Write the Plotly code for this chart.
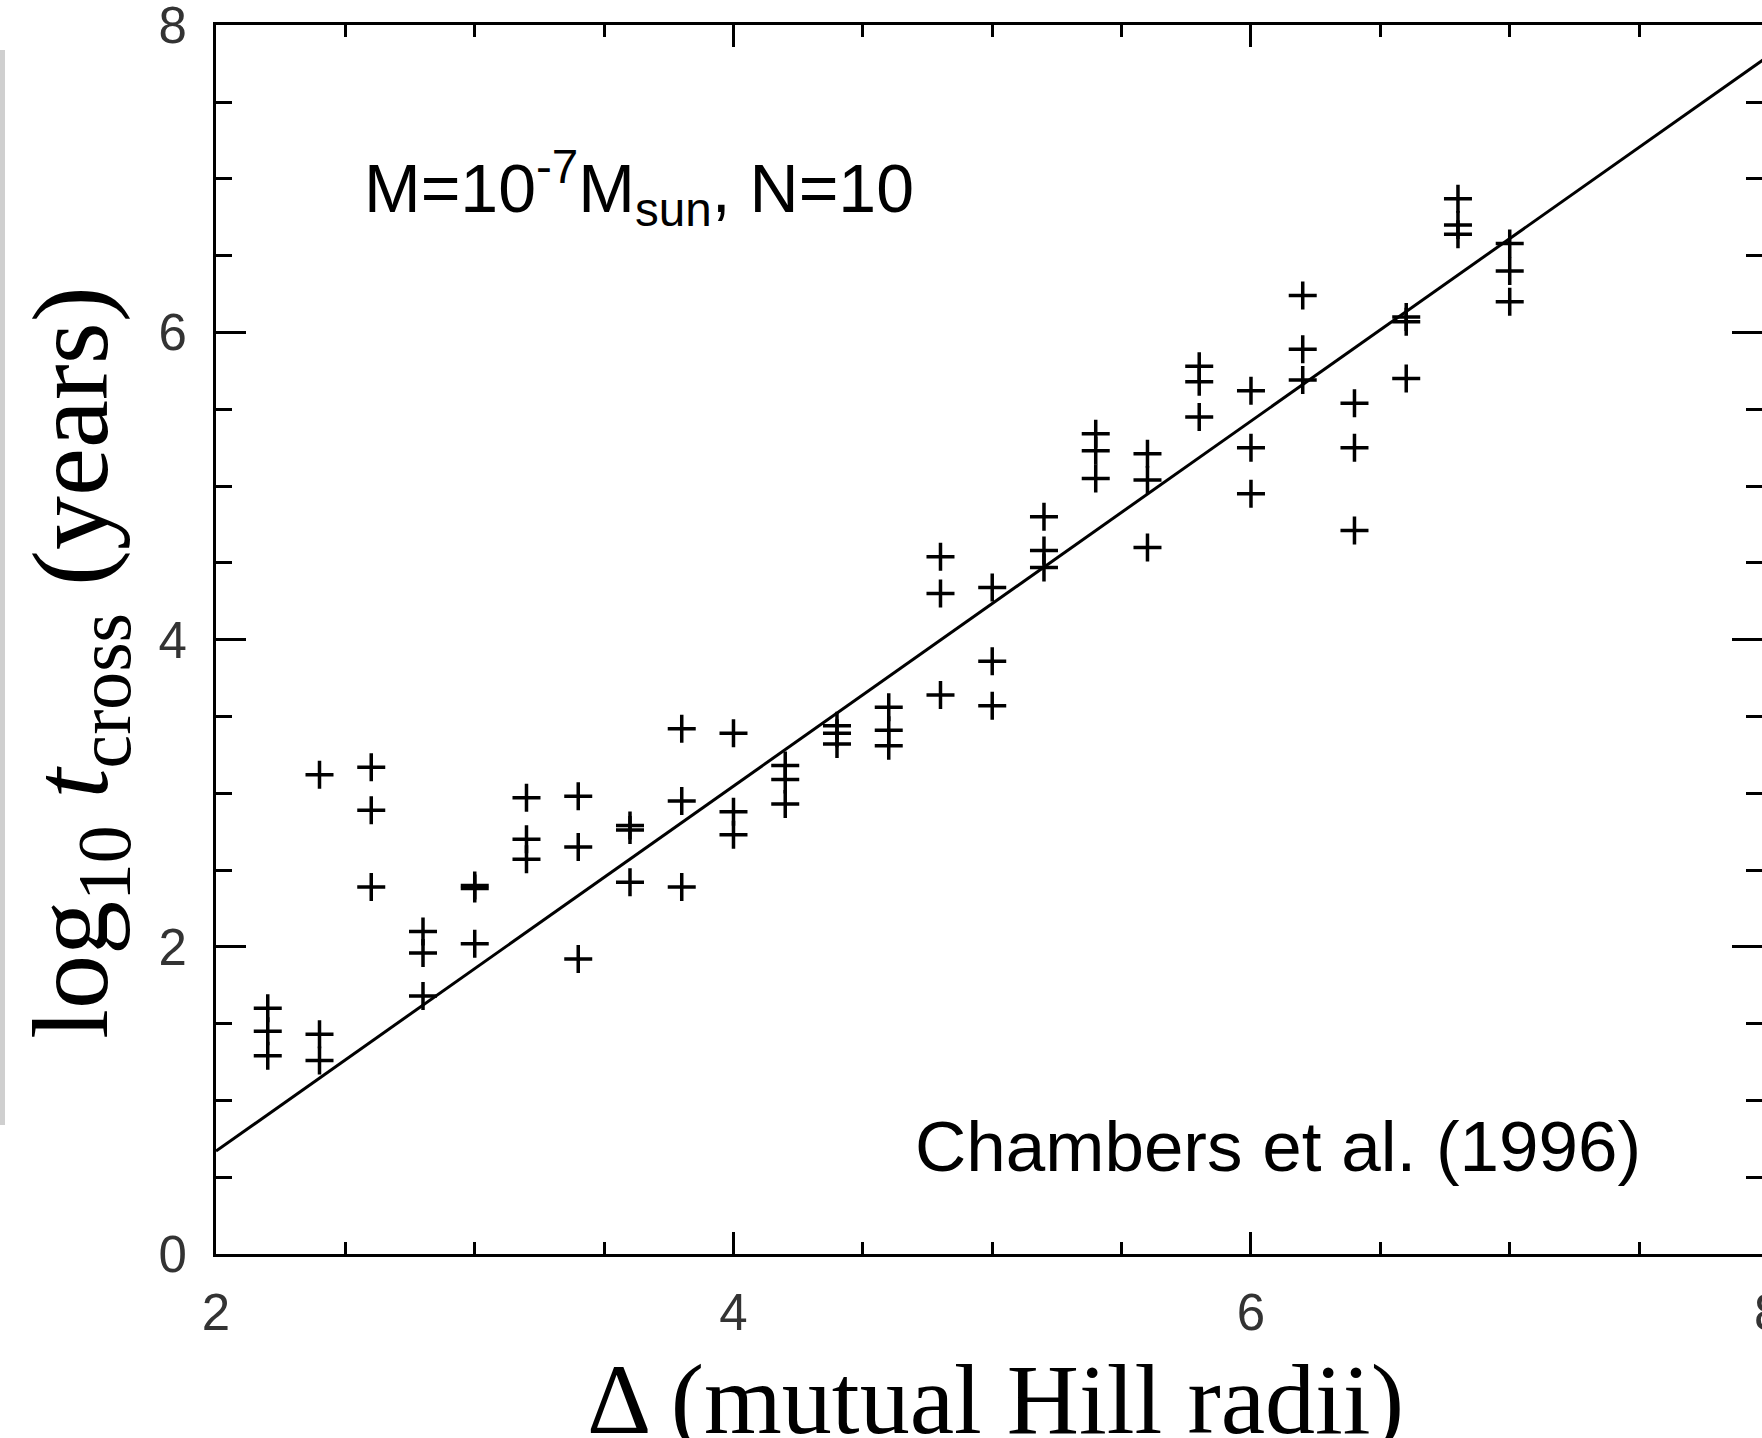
import plotly.graph_objects as go

# ---- data ----
delta = [2.2, 2.2, 2.2,
         2.4, 2.4, 2.4,
         2.6, 2.6, 2.6,
         2.8, 2.8, 2.8,
         3.0, 3.0, 3.0,
         3.2, 3.2, 3.2,
         3.4, 3.4, 3.4,
         3.6, 3.6, 3.6,
         3.8, 3.8, 3.8,
         4.0, 4.0, 4.0,
         4.2, 4.2, 4.2,
         4.4, 4.4, 4.4,
         4.6, 4.6, 4.6,
         4.8, 4.8, 4.8,
         5.0, 5.0, 5.0,
         5.2, 5.2, 5.2,
         5.4, 5.4, 5.4,
         5.6, 5.6, 5.6,
         5.8, 5.8, 5.8,
         6.0, 6.0, 6.0,
         6.2, 6.2, 6.2,
         6.4, 6.4, 6.4,
         6.6, 6.6, 6.6,
         6.8, 6.8, 6.8,
         7.0, 7.0, 7.0]
log_tcross = [1.60, 1.45, 1.29,
              3.12, 1.43, 1.26,
              3.17, 2.89, 2.39,
              2.10, 1.96, 1.68,
              2.40, 2.38, 2.02,
              2.97, 2.70, 2.57,
              2.98, 2.65, 1.92,
              2.79, 2.76, 2.42,
              3.42, 2.95, 2.39,
              3.39, 2.88, 2.73,
              3.18, 3.09, 2.93,
              3.44, 3.39, 3.32,
              3.56, 3.41, 3.31,
              4.54, 4.30, 3.64,
              4.34, 3.86, 3.57,
              4.80, 4.58, 4.47,
              5.34, 5.23, 5.05,
              5.21, 5.04, 4.60,
              5.78, 5.68, 5.45,
              5.62, 5.25, 4.95,
              6.24, 5.89, 5.69,
              5.54, 5.25, 4.71,
              6.10, 6.07, 5.70,
              6.87, 6.70, 6.64,
              6.58, 6.40, 6.20]

fit_x = [2.0, 8.0]
fit_y = [0.67, 7.80]

x_ticks = [2, 4, 6, 8]
y_ticks = [0, 2, 4, 6, 8]

# ---- layout geometry (pixels) ----
W, H = 1762, 1438
ML, MR, MT, MB = 216, 0, 25, 184
PW, PH = W - ML - MR, H - MT - MB
x_range = [2.0, 7.975]
y_range = [0.0, 8.002]


def px_x(p):
    return (p - ML) / PW


def px_y(p):
    return (H - MB - p) / PH


fig = go.Figure()

fig.add_trace(go.Scatter(
    x=fit_x, y=fit_y, mode="lines",
    line=dict(color="black", width=3),
    showlegend=False, hoverinfo="skip",
))

fig.add_trace(go.Scatter(
    x=delta, y=log_tcross, mode="markers",
    marker=dict(symbol="cross-thin", size=20, color="black",
                line=dict(color="black", width=3.5)),
    showlegend=False,
))

tick_font = dict(family="Liberation Sans, Arial, sans-serif", size=51, color="#333333")

fig.update_xaxes(
    range=x_range, tickvals=x_ticks[:-1], ticktext=[str(v) for v in x_ticks[:-1]],
    ticks="inside", ticklen=22, tickwidth=2.5, tickcolor="black",
    minor=dict(dtick=0.5, tick0=2, ticks="inside", ticklen=12, tickwidth=2.5, tickcolor="black"),
    showline=True, linecolor="black", linewidth=3, mirror="ticks",
    showgrid=False, zeroline=False, tickfont=tick_font, ticklabelstandoff=12,
    ticklabeloverflow="allow",
)
fig.update_yaxes(
    range=y_range, tickvals=y_ticks, ticktext=[str(v) for v in y_ticks],
    ticks="inside", ticklen=30, tickwidth=3, tickcolor="black",
    minor=dict(dtick=0.5, tick0=0, ticks="inside", ticklen=16, tickwidth=2.5, tickcolor="black"),
    showline=True, linecolor="black", linewidth=3, mirror="ticks",
    showgrid=False, zeroline=False, tickfont=tick_font, ticklabelstandoff=16,
    ticklabeloverflow="allow",
)

# cut-off "8" tick label at the right edge
fig.add_annotation(
    x=(x_ticks[-1] - x_range[0]) / (x_range[1] - x_range[0]), xref="paper",
    y=px_y(1282), yref="paper", xanchor="center", yanchor="top",
    text=str(x_ticks[-1]), showarrow=False, font=tick_font,
)

serif = "Liberation Serif, Times New Roman, serif"
sans = "Liberation Sans, Arial, Helvetica, sans-serif"

fig.add_annotation(
    x=px_x(995), xref="paper", y=px_y(1342), yref="paper",
    xanchor="center", yanchor="top",
    text="Δ (mutual Hill radii)", showarrow=False,
    font=dict(family=serif, size=100, color="black"),
)
fig.add_annotation(
    x=px_x(78), xref="paper", y=px_y(663), yref="paper",
    xanchor="center", yanchor="middle", textangle=-90,
    text="log<sub>10</sub> <i>t</i><sub>cross</sub> (years)", showarrow=False,
    font=dict(family=serif, size=108, color="black"),
)
fig.add_annotation(
    x=px_x(362), xref="paper", y=px_y(188), yref="paper",
    xanchor="left", yanchor="middle",
    text="M=10<sup>-7</sup>M<sub>sun</sub>, N=10", showarrow=False,
    font=dict(family=sans, size=68, color="black"),
)
fig.add_annotation(
    x=px_x(1643), xref="paper", y=px_y(1146), yref="paper",
    xanchor="right", yanchor="middle",
    text="Chambers et al. (1996)", showarrow=False,
    font=dict(family=sans, size=71, color="black"),
)

# faint gray border at the far left edge of the reference image
fig.add_shape(type="rect", xref="paper", yref="paper",
              x0=px_x(0), x1=px_x(5), y0=px_y(1125), y1=px_y(50),
              fillcolor="#cfcfcf", line=dict(width=0), layer="below")

fig.update_layout(
    width=W, height=H,
    margin=dict(l=ML, r=MR, t=MT, b=MB, autoexpand=False),
    paper_bgcolor="white", plot_bgcolor="white",
    showlegend=False,
)

fig.write_html("out.html")
